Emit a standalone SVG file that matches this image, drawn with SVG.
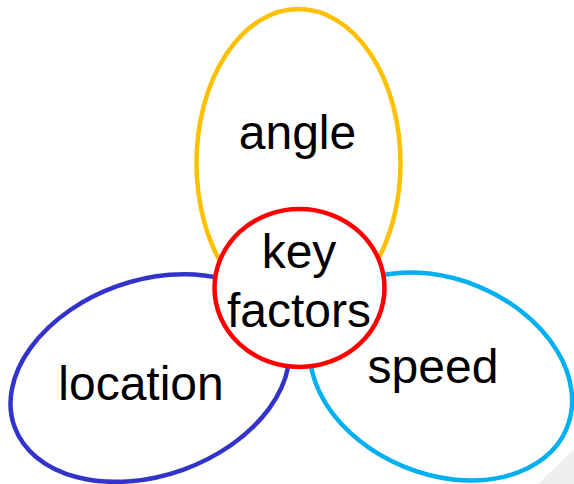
<svg xmlns="http://www.w3.org/2000/svg" width="574" height="484" viewBox="0 0 574 484">
  <style>
    .ring { fill: #ffffff; stroke-width: 4.5; }
    .label { font-family: "Liberation Sans", Arial, sans-serif; font-size: 48px; fill: #000000; text-anchor: middle; }
  </style>
  <rect width="574" height="484" fill="#ffffff"/>
  <!-- corner shading -->
  <polygon points="574,449 574,484 538,484" fill="#efefef"/>

  <g id="angle">
    <ellipse class="ring" cx="298.5" cy="163" rx="102" ry="154" stroke="#FFC000"/>
    <text class="label" x="297.5" y="149">angle</text>
  </g>

  <g id="location">
    <ellipse class="ring" cx="150" cy="378" rx="144" ry="97.5" stroke="#3333CC" transform="rotate(-19.7 150 378)"/>
    <text class="label" x="141" y="400">location</text>
  </g>

  <g id="speed">
    <ellipse class="ring" cx="441" cy="376.5" rx="136" ry="97.5" stroke="#00B0F0" transform="rotate(22.4 441 376.5)"/>
    <text class="label" x="433" y="383">speed</text>
  </g>

  <g id="key-factors">
    <ellipse class="ring" cx="299.5" cy="288" rx="85" ry="79" stroke="#FF0000"/>
    <text class="label" x="299" y="268">key</text>
    <text class="label" x="299" y="327">factors</text>
  </g>

  <g id="connectors"></g>
</svg>
